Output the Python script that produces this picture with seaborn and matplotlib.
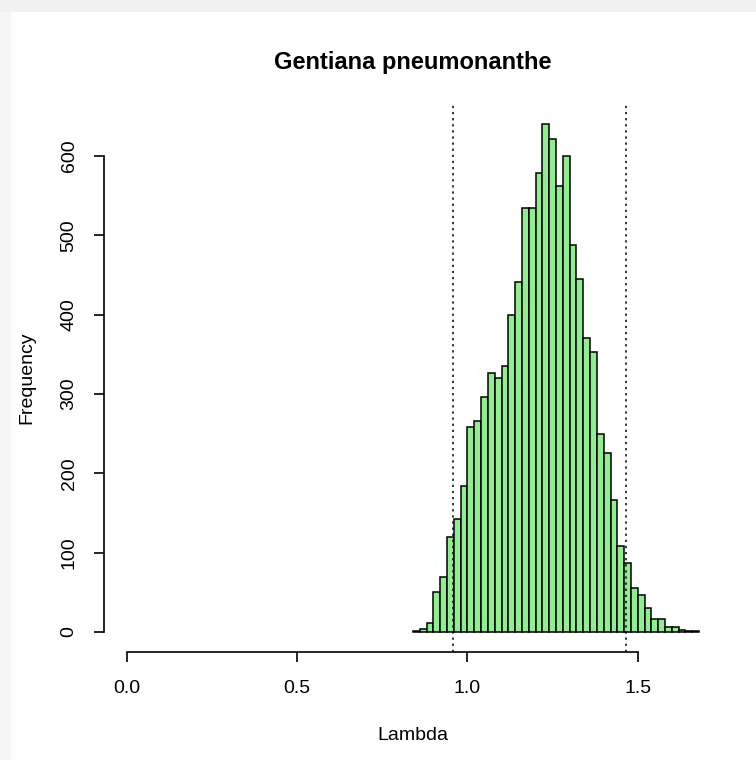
import numpy as np
import pandas as pd
import matplotlib
matplotlib.use("Agg")
import matplotlib.pyplot as plt
import seaborn as sns
from matplotlib.patches import Rectangle

# histogram bins (width 0.02) and counts
bin_start = 0.84
bin_width = 0.02
counts = [1, 4, 11, 51, 69, 120, 142, 184, 258, 266,
          296, 327, 320, 335, 399, 441, 534, 534, 578, 640,
          621, 562, 600, 488, 445, 371, 353, 250, 226, 166,
          109, 87, 55, 47, 30, 17, 17, 6, 6, 3,
          1, 1]
ci_lines = [0.956, 1.466]
x_ticks = [0.0, 0.5, 1.0, 1.5]
y_ticks = [0, 100, 200, 300, 400, 500, 600]

edges = bin_start + bin_width * np.arange(len(counts) + 1)
df = pd.DataFrame({'Lambda': (edges[:-1] + edges[1:]) / 2, 'count': counts})

sns.set_style("white")
plt.rcParams['font.family'] = ['Liberation Sans', 'DejaVu Sans']
plt.rcParams['text.color'] = 'black'
plt.rcParams['axes.labelcolor'] = 'black'
plt.rcParams['xtick.color'] = 'black'
plt.rcParams['ytick.color'] = 'black'

fig = plt.figure(figsize=(7.56, 7.60), dpi=100)
fig.patch.set_facecolor('white')
# card shadow strips
fig.patches.append(Rectangle((0, 1 - 12 / 760), 1, 12 / 760, transform=fig.transFigure,
                             facecolor='#f1f1f1', edgecolor='none', zorder=0))
fig.patches.append(Rectangle((0, 0), 11 / 756, 1 - 12 / 760, transform=fig.transFigure,
                             facecolor='#f6f6f6', edgecolor='none', zorder=0))

ax = fig.add_axes([104 / 756, (760 - 652.3) / 760, (722 - 104) / 756, (652.3 - 104) / 760])
ax.set_facecolor('none')

sns.histplot(data=df, x='Lambda', weights='count', bins=list(edges), color='#90EE90',
             edgecolor='black', linewidth=1.1, alpha=1, ax=ax)

for v in ci_lines:
    ax.axvline(v, color='black', linestyle=(0, (1.5, 2.5)), linewidth=1.1, zorder=5)

xmax = edges[-1]
ax.set_xlim(-0.04 * xmax, xmax * 1.04)
ymax = max(counts)
ax.set_ylim(-0.04 * ymax, ymax * 1.04)

ax.set_xticks(x_ticks)
ax.set_xticklabels([f"{t:.1f}" for t in x_ticks], fontsize=14)
ax.set_yticks(y_ticks)
ax.set_yticklabels([str(t) for t in y_ticks], fontsize=14, rotation=90, va='center')

for side in ['top', 'right']:
    ax.spines[side].set_visible(False)
ax.spines['left'].set_bounds(0, 600)
ax.spines['bottom'].set_bounds(0, 1.5)
for side in ['left', 'bottom']:
    ax.spines[side].set_linewidth(1.2)
    ax.spines[side].set_color('black')
ax.tick_params(axis='both', direction='out', length=7, width=1.2, color='black',
               bottom=True, left=True)
ax.tick_params(axis='x', pad=13)
ax.tick_params(axis='y', pad=12)

ax.set_xlabel('Lambda', fontsize=14, va='center')
ax.xaxis.set_label_coords(413 / 756, 1 - 735 / 760, transform=fig.transFigure)
ax.set_ylabel('Frequency', fontsize=14, va='center')
ax.yaxis.set_label_coords(27 / 756, 1 - 378 / 760, transform=fig.transFigure)
ax.set_title('Gentiana pneumonanthe', fontsize=17, fontweight='bold',
             y=1 + (104 - 62) / 548.3, va='center', pad=0)

fig.savefig('out.png', dpi=100)
